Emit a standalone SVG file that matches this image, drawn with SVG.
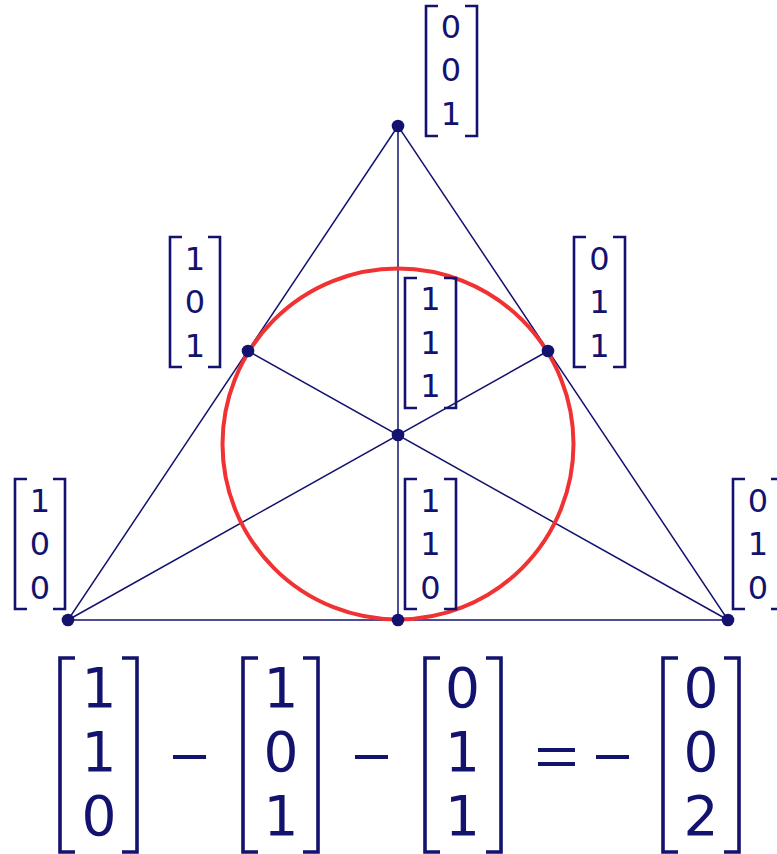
<svg xmlns="http://www.w3.org/2000/svg" width="777" height="854" viewBox="0 0 777 854">
<style>
.ln{stroke:#13136f;stroke-width:1.5;fill:none}
.dot{fill:#13136f}
.br{stroke:#13136f;stroke-width:2.6;fill:none}
.bbr{stroke:#13136f;stroke-width:3.6;fill:none}
.s{font-family:"DejaVu Sans",sans-serif;font-size:32px;fill:#13136f;text-anchor:middle}
.b{font-family:"DejaVu Sans",sans-serif;font-size:55px;fill:#13136f;text-anchor:middle}
.op{stroke:#13136f;stroke-width:4.2}
</style>
<rect width="777" height="854" fill="#ffffff"/>
<g id="connectors">
<path class="ln" d="M398,126 L68,620 L728,620 Z"/>
<line class="ln" x1="398" y1="126" x2="398" y2="620"/>
<line class="ln" x1="68" y1="620" x2="548" y2="351"/>
<line class="ln" x1="728" y1="620" x2="248" y2="351"/>
</g>
<circle id="incircle" cx="398" cy="444" r="175.5" fill="none" stroke="#f03232" stroke-width="4"/>
<g id="node-001">
<circle class="dot" cx="398" cy="126" r="6.3"/>
<path class="br" d="M438,6 H426 V136 H438 M465,6 H477 V136 H465"/>
<text class="s" x="451" y="37.5">0</text><text class="s" x="451" y="81">0</text><text class="s" x="451" y="124.5">1</text>
</g>
<g id="node-101">
<circle class="dot" cx="248" cy="351" r="6.3"/>
<path class="br" d="M182,237 H170 V367 H182 M208,237 H220 V367 H208"/>
<text class="s" x="195" y="269.5">1</text><text class="s" x="195" y="313">0</text><text class="s" x="195" y="356.5">1</text>
</g>
<g id="node-011">
<circle class="dot" cx="548" cy="351" r="6.3"/>
<path class="br" d="M586,237 H574 V367 H586 M613,237 H625 V367 H613"/>
<text class="s" x="599.5" y="269.5">0</text><text class="s" x="599.5" y="313">1</text><text class="s" x="599.5" y="356.5">1</text>
</g>
<g id="node-111">
<circle class="dot" cx="398" cy="435" r="6.3"/>
<path class="br" d="M417,278 H405 V408 H417 M444,278 H456 V408 H444"/>
<text class="s" x="430.5" y="310">1</text><text class="s" x="430.5" y="353.5">1</text><text class="s" x="430.5" y="397">1</text>
</g>
<g id="node-100">
<circle class="dot" cx="68" cy="620" r="6.3"/>
<path class="br" d="M27,479 H15 V609 H27 M53,479 H65 V609 H53"/>
<text class="s" x="40" y="511.5">1</text><text class="s" x="40" y="555">0</text><text class="s" x="40" y="598.5">0</text>
</g>
<g id="node-110">
<circle class="dot" cx="398" cy="620" r="6.3"/>
<path class="br" d="M417,479 H405 V609 H417 M444,479 H456 V609 H444"/>
<text class="s" x="430.5" y="511.5">1</text><text class="s" x="430.5" y="555">1</text><text class="s" x="430.5" y="598.5">0</text>
</g>
<g id="node-010">
<circle class="dot" cx="728" cy="620" r="6.3"/>
<path class="br" d="M745,479 H733 V609 H745 M771,479 H783 V609 H771"/>
<text class="s" x="758" y="511.5">0</text><text class="s" x="758" y="555">1</text><text class="s" x="758" y="598.5">0</text>
</g>
<g id="equation">
<path class="bbr" d="M75,658 H60 V852 H75 M122,658 H137 V852 H122"/>
<text class="b" x="99" y="706.5">1</text><text class="b" x="99" y="770.5">1</text><text class="b" x="99" y="834.5">0</text>
<line class="op" x1="173" y1="757" x2="206" y2="757"/>
<path class="bbr" d="M258,658 H243 V852 H258 M303,658 H318 V852 H303"/>
<text class="b" x="281" y="706.5">1</text><text class="b" x="281" y="770.5">0</text><text class="b" x="281" y="834.5">1</text>
<line class="op" x1="355" y1="757" x2="388" y2="757"/>
<path class="bbr" d="M440,658 H425 V852 H440 M486,658 H501 V852 H486"/>
<text class="b" x="462.5" y="706.5">0</text><text class="b" x="462.5" y="770.5">1</text><text class="b" x="462.5" y="834.5">1</text>
<line class="op" x1="538" y1="750" x2="575" y2="750"/>
<line class="op" x1="538" y1="764" x2="575" y2="764"/>
<line class="op" x1="596" y1="757" x2="629" y2="757"/>
<path class="bbr" d="M678,658 H663 V852 H678 M724,658 H739 V852 H724"/>
<text class="b" x="701" y="706.5">0</text><text class="b" x="701" y="770.5">0</text><text class="b" x="701" y="834.5">2</text>
</g>
</svg>
